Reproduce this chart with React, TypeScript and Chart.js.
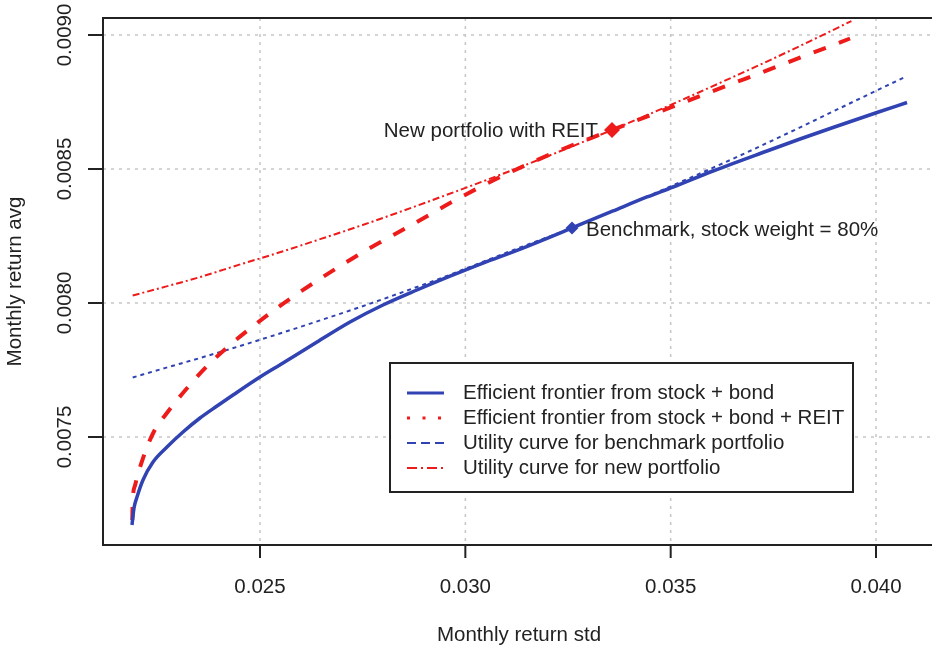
import { useEffect, useRef } from "react";
import { Chart, registerables } from "chart.js";

Chart.register(...registerables);

// Axis ticks
const stdTicks = [0.025, 0.03, 0.035, 0.04];
const stdTickLabels = ["0.025", "0.030", "0.035", "0.040"];
const avgTicks = [0.0075, 0.008, 0.0085, 0.009];
const avgTickLabels = ["0.0075", "0.0080", "0.0085", "0.0090"];

// Efficient frontier, stock + bond
const frontierStockBondStd = [
  0.021883, 0.021932, 0.022005, 0.022151, 0.022395, 0.022735, 0.023125, 0.023539, 0.023953, 0.024343,
  0.025, 0.02556, 0.026388, 0.027192, 0.027995, 0.028823, 0.029627, 0.03043, 0.031258, 0.031989,
  0.032597, 0.033596, 0.034424, 0.035057, 0.036031, 0.037346, 0.038149, 0.038953, 0.040024, 0.040755,
];
const frontierStockBondAvg = [
  0.0071716, 0.0072351, 0.0072761, 0.0073396, 0.0074067, 0.0074627, 0.0075187, 0.0075709, 0.0076157, 0.0076567,
  0.0077239, 0.0077761, 0.0078545, 0.0079291, 0.0079925, 0.0080485, 0.0081, 0.008149, 0.008196, 0.008241,
  0.0082799, 0.0083433, 0.0083955, 0.0084328, 0.0084925, 0.0085672, 0.0086119, 0.0086549, 0.0087108, 0.0087481,
];

// Efficient frontier, stock + bond + REIT
const frontierReitStd = [
  0.02189, 0.0219, 0.02196, 0.02216, 0.0224, 0.02277, 0.02325, 0.02374, 0.024269, 0.024805,
  0.025414, 0.025901, 0.02651, 0.02707, 0.027679, 0.028336, 0.028969, 0.029627, 0.030357, 0.030917,
  0.031575, 0.032378, 0.033571, 0.034253, 0.034984, 0.035714, 0.036518, 0.037102, 0.037857, 0.038466,
  0.039367,
];
const frontierReitAvg = [
  0.00719, 0.007257, 0.007321, 0.007425, 0.007515, 0.007597, 0.007687, 0.007769, 0.0078433, 0.0079104,
  0.0079813, 0.0080336, 0.0080951, 0.0081493, 0.0082052, 0.0082612, 0.0083153, 0.0083731, 0.0084325, 0.0084754,
  0.0085216, 0.0085746, 0.0086455, 0.0086858, 0.0087287, 0.008772, 0.0088194, 0.0088534, 0.0088981, 0.008934,
  0.0089869,
];

// Utility curve through the benchmark portfolio
const utilityBenchmarkStd = [
  0.0219, 0.0227, 0.0235, 0.0245, 0.0255, 0.0265, 0.0275, 0.0285, 0.0295, 0.0305,
  0.0315, 0.0326, 0.0335, 0.0345, 0.0355, 0.0365, 0.0375, 0.0385, 0.0395, 0.0407,
];
const utilityBenchmarkAvg = [
  0.007722, 0.007758, 0.007793, 0.007839, 0.007887, 0.007937, 0.007988, 0.008042, 0.008098, 0.008158,
  0.008217, 0.00828, 0.008337, 0.008402, 0.008469, 0.008537, 0.008608, 0.008681, 0.008755, 0.008843,
];

// Utility curve through the new portfolio
const utilityNewStd = [
  0.0219, 0.0227, 0.0235, 0.0245, 0.0255, 0.0265, 0.0275, 0.0285, 0.0295, 0.0305,
  0.0315, 0.0325, 0.03357, 0.0345, 0.0355, 0.0365, 0.0375, 0.0385, 0.0394,
];
const utilityNewAvg = [
  0.008028, 0.008061, 0.008095, 0.008143, 0.00819, 0.00824, 0.008291, 0.008345, 0.008401, 0.008458,
  0.008517, 0.008578, 0.0086455, 0.008706, 0.008773, 0.008842, 0.008912, 0.008985, 0.009052,
];

// Highlighted portfolios
const benchmarkStd = [0.032597];
const benchmarkAvg = [0.0082799];
const newPortfolioStd = [0.033571];
const newPortfolioAvg = [0.0086455];

const legendLabels = [
  "Efficient frontier from stock + bond",
  "Efficient frontier from stock + bond + REIT",
  "Utility curve for benchmark portfolio",
  "Utility curve for new portfolio",
];

const BLUE = "#3143b2";
const RED = "#ee1b1b";
const INK = "#222222";
const FONT = '20.5px "Liberation Sans", Arial, sans-serif';

const toPoints = (xs: number[], ys: number[]) => xs.map((x, i) => ({ x, y: ys[i] }));

const frame = {
  id: "rFrame",
  beforeDatasetsDraw(chart: any) {
    const { ctx, chartArea: a, scales } = chart;
    const sx = scales.x;
    const sy = scales.y;
    ctx.save();
    // dotted grid
    ctx.strokeStyle = "#c6c6c6";
    ctx.lineWidth = 1.5;
    ctx.setLineDash([3, 5]);
    for (const v of stdTicks) {
      const px = sx.getPixelForValue(v);
      ctx.beginPath();
      ctx.moveTo(px, a.top);
      ctx.lineTo(px, a.bottom);
      ctx.stroke();
    }
    for (const v of avgTicks) {
      const py = sy.getPixelForValue(v);
      ctx.beginPath();
      ctx.moveTo(a.left, py);
      ctx.lineTo(a.right, py);
      ctx.stroke();
    }
    // plot box
    ctx.setLineDash([]);
    ctx.strokeStyle = INK;
    ctx.lineWidth = 2;
    ctx.strokeRect(a.left, a.top, a.right - a.left, a.bottom - a.top);
    ctx.restore();
  },
  afterDatasetsDraw(chart: any) {
    const { ctx, chartArea: a, scales } = chart;
    const sx = scales.x;
    const sy = scales.y;
    ctx.save();
    ctx.setLineDash([]);
    ctx.strokeStyle = INK;
    ctx.fillStyle = INK;
    ctx.lineWidth = 2;
    ctx.font = FONT;

    // x axis ticks and labels
    ctx.textAlign = "center";
    ctx.textBaseline = "middle";
    stdTicks.forEach((v, i) => {
      const px = sx.getPixelForValue(v);
      ctx.beginPath();
      ctx.moveTo(px, a.bottom);
      ctx.lineTo(px, a.bottom + 13);
      ctx.stroke();
      ctx.fillText(stdTickLabels[i], px, a.bottom + 42);
    });
    ctx.fillText("Monthly return std", (a.left + a.right) / 2, a.bottom + 90);

    // y axis ticks and labels (rotated)
    avgTicks.forEach((v, i) => {
      const py = sy.getPixelForValue(v);
      ctx.beginPath();
      ctx.moveTo(a.left - 15, py);
      ctx.lineTo(a.left, py);
      ctx.stroke();
      ctx.save();
      ctx.translate(a.left - 38, py);
      ctx.rotate(-Math.PI / 2);
      ctx.fillText(avgTickLabels[i], 0, 0);
      ctx.restore();
    });
    ctx.save();
    ctx.translate(15, (a.top + a.bottom) / 2);
    ctx.rotate(-Math.PI / 2);
    ctx.fillText("Monthly return avg", 0, 0);
    ctx.restore();

    // point annotations
    const npx = sx.getPixelForValue(newPortfolioStd[0]);
    const npy = sy.getPixelForValue(newPortfolioAvg[0]);
    ctx.textAlign = "right";
    ctx.fillText("New portfolio with REIT", npx - 14, npy + 1);
    const bpx = sx.getPixelForValue(benchmarkStd[0]);
    const bpy = sy.getPixelForValue(benchmarkAvg[0]);
    ctx.textAlign = "left";
    ctx.fillText("Benchmark, stock weight = 80%", bpx + 14, bpy + 2);

    // legend
    const lx = 390;
    const ly = 363;
    const lw = 463;
    const lh = 129;
    ctx.fillStyle = "#ffffff";
    ctx.fillRect(lx, ly, lw, lh);
    ctx.strokeStyle = INK;
    ctx.lineWidth = 2;
    ctx.strokeRect(lx, ly, lw, lh);
    const rows = [
      { color: BLUE, width: 3, dash: [] as number[] },
      { color: RED, width: 3, dash: [3, 12.5] },
      { color: BLUE, width: 2, dash: [9, 5] },
      { color: RED, width: 2, dash: [10, 4, 2, 4] },
    ];
    rows.forEach((r, i) => {
      const yy = ly + 30 + i * 25;
      ctx.strokeStyle = r.color;
      ctx.lineWidth = r.width;
      ctx.setLineDash(r.dash);
      ctx.beginPath();
      ctx.moveTo(lx + 17, yy);
      ctx.lineTo(lx + 54, yy);
      ctx.stroke();
      ctx.setLineDash([]);
      ctx.fillStyle = INK;
      ctx.textAlign = "left";
      ctx.fillText(legendLabels[i], lx + 73, yy);
    });
    ctx.restore();
  },
};

export default function App() {
  const ref = useRef<HTMLCanvasElement>(null);

  useEffect(() => {
    if (!ref.current) return;
    const line = (
      xs: number[],
      ys: number[],
      color: string,
      width: number,
      dash: number[]
    ) => ({
      data: toPoints(xs, ys),
      showLine: true,
      borderColor: color,
      backgroundColor: color,
      borderWidth: width,
      borderDash: dash,
      pointRadius: 0,
      cubicInterpolationMode: "monotone" as const,
    });
    const chart = new Chart(ref.current, {
      type: "scatter",
      data: {
        datasets: [
          {
            data: toPoints(newPortfolioStd, newPortfolioAvg),
            pointStyle: "rectRot",
            pointRadius: 8,
            backgroundColor: RED,
            borderColor: RED,
            borderWidth: 0,
          },
          {
            data: toPoints(benchmarkStd, benchmarkAvg),
            pointStyle: "rectRot",
            pointRadius: 6.5,
            backgroundColor: BLUE,
            borderColor: BLUE,
            borderWidth: 0,
          },
          line(frontierStockBondStd, frontierStockBondAvg, BLUE, 3.5, []),
          line(frontierReitStd, frontierReitAvg, RED, 4, [13, 14]),
          line(utilityBenchmarkStd, utilityBenchmarkAvg, BLUE, 2, [4, 4]),
          line(utilityNewStd, utilityNewAvg, RED, 2, [7, 3, 2, 3]),
        ],
      },
      options: {
        responsive: false,
        animation: false,
        devicePixelRatio: 1,
        layout: { padding: { left: 103, top: 18, right: 9, bottom: 104 } },
        scales: {
          x: { type: "linear", display: false, min: 0.021177, max: 0.041436 },
          y: { type: "linear", display: false, min: 0.007097, max: 0.0090634 },
        },
        plugins: {
          legend: { display: false },
          tooltip: { enabled: false },
        },
      },
      plugins: [frame],
    });
    return () => chart.destroy();
  }, []);

  return (
    <div
      style={{
        position: "fixed",
        left: 0,
        top: 0,
        width: 932,
        height: 649,
        overflow: "hidden",
        background: "#ffffff",
      }}
    >
      <canvas ref={ref} width={944} height={649} style={{ display: "block", width: 944, height: 649 }} />
    </div>
  );
}
